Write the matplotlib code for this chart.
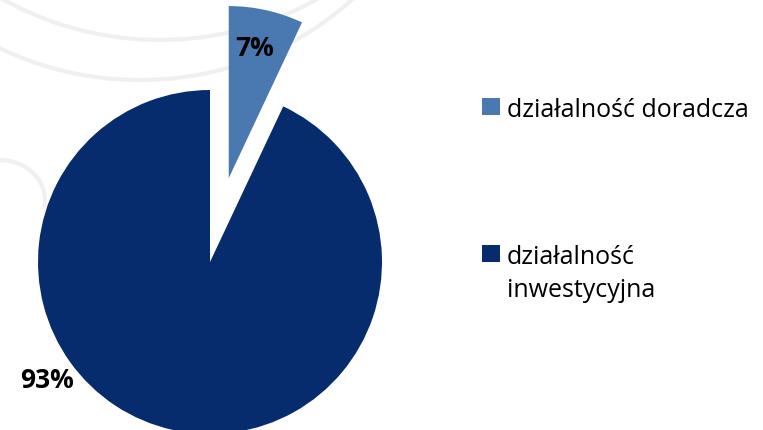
import matplotlib.pyplot as plt
from matplotlib.patches import Rectangle, Arc

# data
labels = ['działalność doradcza', 'działalność\ninwestycyjna']
values = [7, 93]
colors = ['#4A78B0', '#062C6E']

W, H = 763, 430
fig = plt.figure(figsize=(W / 100, H / 100), dpi=100)
plt.rcParams['font.family'] = ['Open Sans', 'DejaVu Sans']

# pie centre and radius in pixels
cx, cy, r = 210, 262, 172
ax = fig.add_axes([0, 0, 1, 1])

# faint decorative swooshes in the background
swoosh = dict(color='#F0F0F0', lw=3, zorder=0)
ax.add_patch(Arc((-0.291, 2.890), 3.488, 3.198, theta1=200, theta2=330, **swoosh))
ax.add_patch(Arc((-0.407, 2.657), 3.488, 3.198, theta1=200, theta2=340, **swoosh))
ax.add_patch(Arc((-1.221, 0.360), 0.523, 0.465, theta1=-10, theta2=100, **swoosh))

wedges, _ = ax.pie(values, colors=colors, startangle=90, counterclock=False,
                   explode=[0.5, 0], radius=1,
                   wedgeprops=dict(edgecolor='none', zorder=2))
ax.set_xlim(-cx / r, (W - cx) / r)
ax.set_ylim(-(H - cy) / r, cy / r)
ax.set_aspect('auto')
ax.axis('off')

# percentage labels
ax.text(0.262, 1.24, f'{values[0]}%', ha='center', va='center',
        fontsize=19, fontweight='bold', color='black', zorder=3)
ax.text(-0.948, -0.687, f'{values[1]}%', ha='center', va='center',
        fontsize=19, fontweight='bold', color='black', zorder=3)

# legend drawn by hand so the marker sits on the first line
leg_base = [117, 264]
for lab, col, y in zip(labels, colors, leg_base):
    fig.patches.append(Rectangle((482 / W, 1 - (y - 2) / H), 18 / W, 17 / H,
                                 transform=fig.transFigure, facecolor=col,
                                 edgecolor='none'))
    for i, line in enumerate(lab.split('\n')):
        fig.text(507 / W, 1 - (y + 33 * i) / H, line, ha='left',
                 va='baseline', fontsize=18, color='black')

fig.savefig('out.png', dpi=100)
